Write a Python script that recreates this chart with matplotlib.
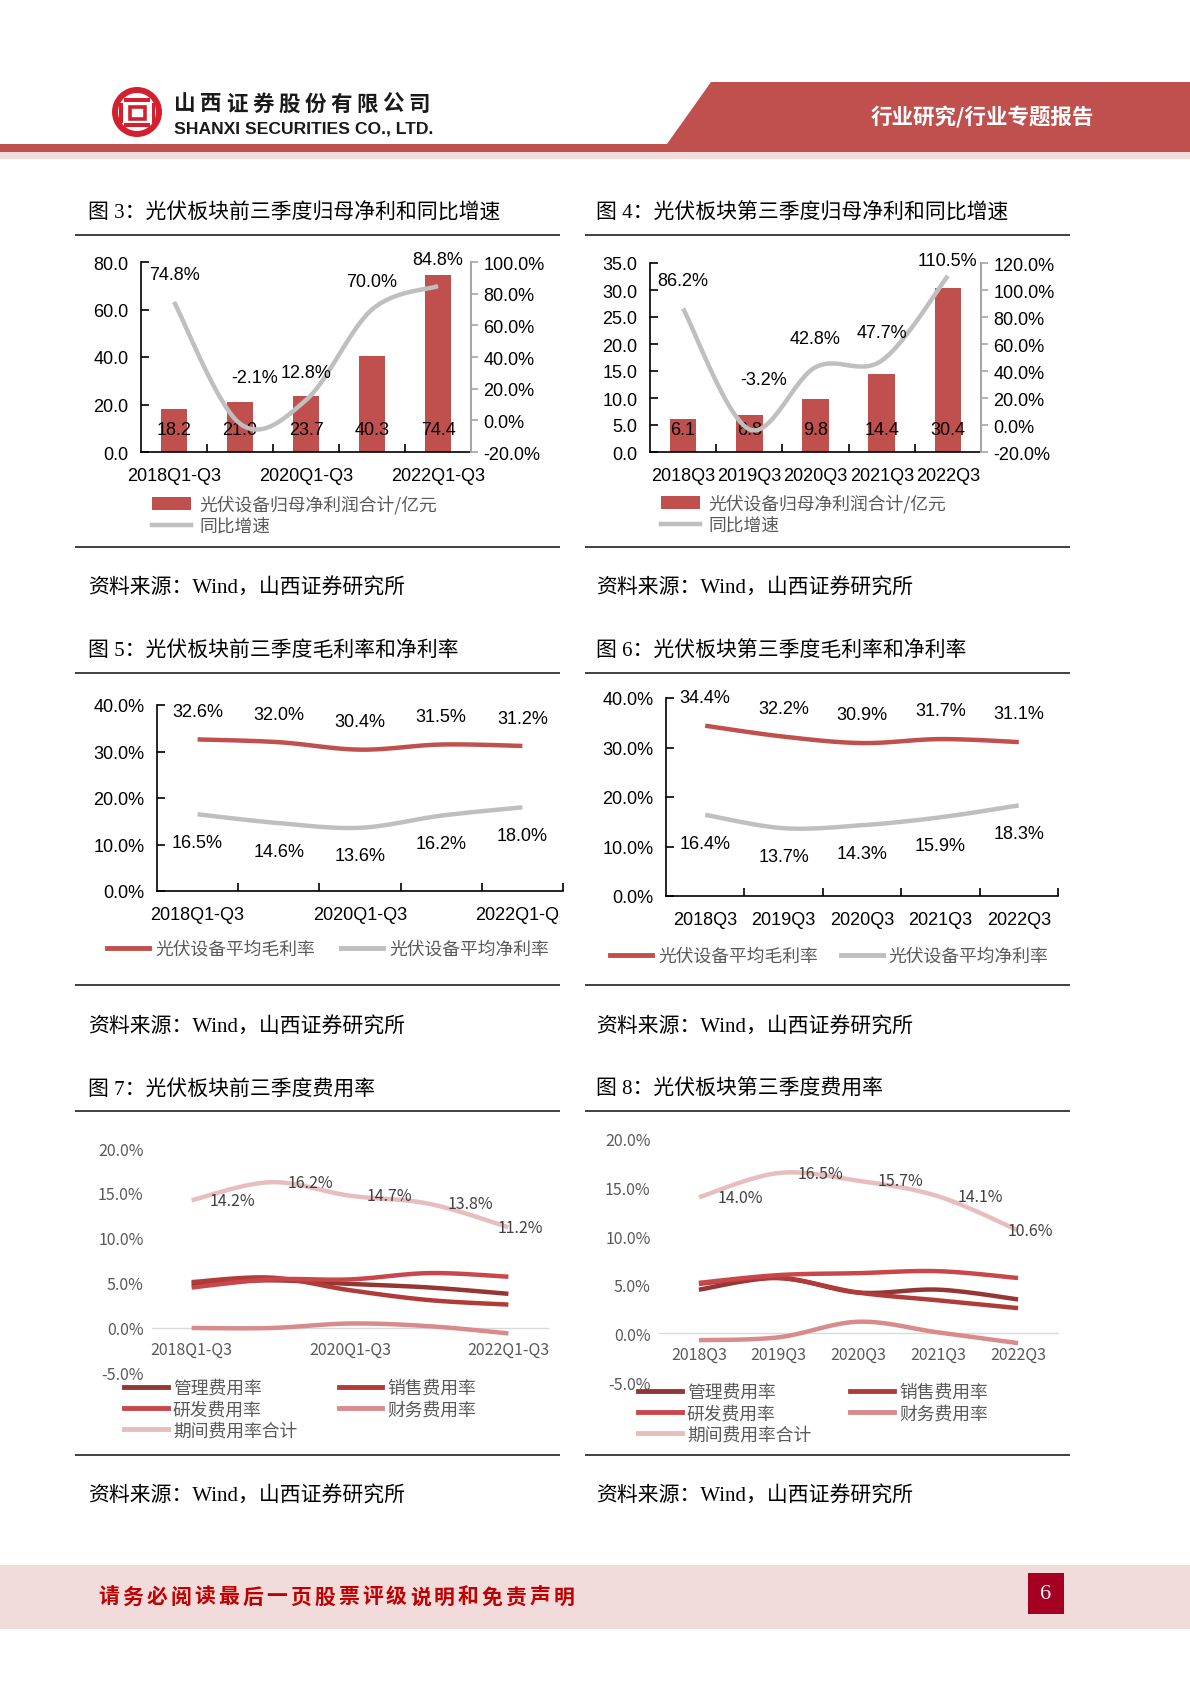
import numpy as np
import matplotlib
matplotlib.use('Agg')
import matplotlib.pyplot as plt
from matplotlib.patches import Polygon, Rectangle, Wedge, Patch
from matplotlib.lines import Line2D
from matplotlib.ticker import FuncFormatter, FixedLocator
from matplotlib.transforms import Bbox, TransformedBbox

plt.rcParams['font.family'] = ['Noto Sans CJK SC', 'DejaVu Sans']
plt.rcParams['axes.unicode_minus'] = False

# ---------------- data ----------------
cats_ytd = ['2018Q1-Q3', '2019Q1-Q3', '2020Q1-Q3', '2021Q1-Q3', '2022Q1-Q3']
cats_q3 = ['2018Q3', '2019Q3', '2020Q3', '2021Q3', '2022Q3']

profit_ytd = [18.2, 21.0, 23.7, 40.3, 74.4]
growth_ytd = [74.8, -2.1, 12.8, 70.0, 84.8]
profit_q3 = [6.1, 6.8, 9.8, 14.4, 30.4]
growth_q3 = [86.2, -3.2, 42.8, 47.7, 110.5]

gross_ytd = [32.6, 32.0, 30.4, 31.5, 31.2]
net_ytd = [16.5, 14.6, 13.6, 16.2, 18.0]
gross_q3 = [34.4, 32.2, 30.9, 31.7, 31.1]
net_q3 = [16.4, 13.7, 14.3, 15.9, 18.3]

mgmt_ytd = [4.9, 5.3, 4.9, 4.5, 3.8]
sales_ytd = [5.1, 5.6, 4.2, 3.1, 2.6]
rd_ytd = [4.5, 5.4, 5.4, 6.1, 5.7]
fin_ytd = [0.0, 0.0, 0.5, 0.2, -0.6]
total_ytd = [14.2, 16.2, 14.7, 13.8, 11.2]

mgmt_q3 = [4.5, 5.7, 4.2, 4.5, 3.5]
sales_q3 = [5.1, 5.7, 4.2, 3.4, 2.6]
rd_q3 = [5.2, 6.0, 6.2, 6.4, 5.7]
fin_q3 = [-0.7, -0.4, 1.2, 0.1, -1.0]
total_q3 = [14.0, 16.5, 15.7, 14.1, 10.6]

bar_label = '光伏设备归母净利润合计/亿元'
growth_label = '同比增速'
gross_label = '光伏设备平均毛利率'
net_label = '光伏设备平均净利率'
exp_labels = ['管理费用率', '销售费用率', '研发费用率', '财务费用率', '期间费用率合计']

# ---------------- style ----------------
W, H = 1190, 1683
RED = '#C0504D'
GRAY = '#BFBFBF'
EXP_COLORS = ['#943634', '#B03C3A', '#C9474A', '#D98A8A', '#E8BDBD']
NUM = ['Liberation Sans', 'Noto Sans CJK SC']
SERIF = ['Liberation Serif', 'Noto Sans CJK SC']
CJK = ['Noto Sans CJK SC', 'DejaVu Sans']
FS = 13  # chart text size for charts 3-6

fig = plt.figure(figsize=(W / 100, H / 100), dpi=100)
fig.patch.set_facecolor('white')

bg = fig.add_axes([0, 0, 1, 1], zorder=-5)
bg.set_xlim(0, W)
bg.set_ylim(H, 0)
bg.axis('off')


def add_ax(l, t, r, b):
    return fig.add_axes([l / W, 1 - b / H, (r - l) / W, (b - t) / H])


def smooth(x, y, n=30):
    x = np.asarray(x, float)
    y = np.asarray(y, float)
    P = np.column_stack([x, y])
    P = np.vstack([P[0], P, P[-1]])
    t = np.linspace(0, 1, n, endpoint=False)[:, None]
    segs = []
    for i in range(1, len(P) - 2):
        p0, p1, p2, p3 = P[i - 1], P[i], P[i + 1], P[i + 2]
        seg = 0.5 * (2 * p1 + (-p0 + p2) * t + (2 * p0 - 5 * p1 + 4 * p2 - p3) * t ** 2
                     + (-p0 + 3 * p1 - 3 * p2 + p3) * t ** 3)
        segs.append(seg)
    segs.append(P[-2][None, :])
    pts = np.vstack(segs)
    return pts[:, 0], pts[:, 1]


# ---------------- page header ----------------
bg.add_patch(Polygon([(711, 83), (W, 83), (W, 153), (0, 153), (0, 145), (667, 145)],
                     closed=True, facecolor=RED, edgecolor='none'))
bg.add_patch(Rectangle((0, 153), W, 7, facecolor='#F2DCDB', edgecolor='none'))
bg.text(982, 117, '行业研究/行业专题报告', color='white', fontsize=15.5, fontweight='bold',
        ha='center', va='center')

# logo
LC = '#D2202E'
bg.add_patch(Wedge((137, 113), 25, 0, 360, width=6, facecolor=LC, edgecolor='none'))
bg.add_patch(Rectangle((124, 99), 26, 4, facecolor=LC, edgecolor='none'))
bg.add_patch(Rectangle((129.5, 107.5), 15, 12, facecolor='none', edgecolor=LC, lw=2.6))
bg.add_patch(Rectangle((119, 104), 3.5, 20, facecolor=LC, edgecolor='none'))
bg.add_patch(Rectangle((151.5, 104), 3.5, 20, facecolor=LC, edgecolor='none'))
bg.add_patch(Rectangle((124, 124), 26, 3.5, facecolor=LC, edgecolor='none'))

company = '山西证券股份有限公司'
for i, ch in enumerate(company):
    bg.text(184.5 + i * 26.1, 104, ch, fontsize=15.5, fontweight='bold', color='#1a1a1a',
            ha='center', va='center')
bg.text(174, 129, 'SHANXI SECURITIES CO., LTD.', fontsize=12.6, fontweight='bold',
        family=NUM, color='#1a1a1a', ha='left', va='center')

# ---------------- footer ----------------
bg.add_patch(Rectangle((0, 1566), W, 64, facecolor='#F2DCDB', edgecolor='none'))
footer = '请务必阅读最后一页股票评级说明和免责声明'
for i, ch in enumerate(footer):
    bg.text(109 + i * 23.95, 1597, ch, fontsize=15, fontweight='bold', color='#C00000',
            ha='center', va='center')
bg.add_patch(Rectangle((1028, 1574), 36, 41, facecolor='#A50021', edgecolor='none'))
bg.text(1046, 1595, '6', color='white', fontsize=16, family=SERIF, ha='center', va='center')

# ---------------- titles, rules, sources ----------------
titles = [
    (88, 213, '图 3：光伏板块前三季度归母净利和同比增速'),
    (596, 213, '图 4：光伏板块第三季度归母净利和同比增速'),
    (88, 651, '图 5：光伏板块前三季度毛利率和净利率'),
    (596, 651, '图 6：光伏板块第三季度毛利率和净利率'),
    (88, 1090, '图 7：光伏板块前三季度费用率'),
    (596, 1090, '图 8：光伏板块第三季度费用率'),
]
for x, y, s in titles:
    bg.text(x, y, s, fontsize=15, family=SERIF, color='black', ha='left', va='center')

for y in (236, 674, 1112, 548, 986, 1456):
    for x0, x1 in ((75, 560), (585, 1070)):
        bg.plot([x0, x1], [y, y], color='#404040', lw=1.4, solid_capstyle='butt')

for y in (589, 1028, 1497):
    for x in (88, 596):
        bg.text(x, y, '资料来源：Wind，山西证券研究所', fontsize=15, family=SERIF,
                color='black', ha='left', va='center')


# ---------------- bar + growth charts ----------------
def bar_chart(box, cats, vals, growth, ylim_l, step_l, ylim_r, step_r, label_idx,
              gdx, gdy, leg_xy):
    ax = add_ax(*box)
    x = np.arange(len(cats))
    ax.bar(x, vals, width=0.4, color=RED, zorder=2)
    ax.set_xlim(-0.5, len(cats) - 0.5)
    ax.set_ylim(*ylim_l)
    ax.set_yticks(np.arange(ylim_l[0], ylim_l[1] + 1e-6, step_l))
    ax.yaxis.set_major_formatter(FuncFormatter(lambda v, p: f'{v:.1f}'))
    ax.set_xticks([x[i] for i in label_idx])
    ax.set_xticklabels([cats[i] for i in label_idx])
    ax.xaxis.set_minor_locator(FixedLocator(np.arange(0.5, len(cats), 1.0)))
    ax.tick_params(axis='x', which='major', length=0, pad=11, labelsize=FS)
    ax.tick_params(axis='x', which='minor', length=6, direction='in', width=1.2)
    ax.tick_params(axis='y', length=6, direction='in', width=1.2, pad=9, labelsize=FS)
    for lab in ax.get_xticklabels() + ax.get_yticklabels():
        lab.set_family(NUM)
    for s in ('top', 'right'):
        ax.spines[s].set_visible(False)
    ax.spines['left'].set_linewidth(1.2)
    ax.spines['bottom'].set_linewidth(1.2)
    for i, v in enumerate(vals):
        ax.annotate(f'{v:.1f}', xy=(x[i], 0), xytext=(0, 16), textcoords='offset points',
                    ha='center', va='center', fontsize=FS, family=NUM, zorder=4)

    ax2 = ax.twinx()
    xs, ys = smooth(x, growth)
    ax2.plot(xs, ys, color=GRAY, lw=3.2, solid_capstyle='butt', zorder=3)
    ax2.set_ylim(*ylim_r)
    ax2.set_yticks(np.arange(ylim_r[0], ylim_r[1] + 1e-6, step_r))
    ax2.yaxis.set_major_formatter(FuncFormatter(lambda v, p: f'{v:.1f}%'))
    ax2.tick_params(axis='y', length=5, direction='out', width=1.2, color='#A6A6A6',
                    pad=4, labelsize=FS)
    for lab in ax2.get_yticklabels():
        lab.set_family(NUM)
    for s in ('top', 'left', 'bottom'):
        ax2.spines[s].set_visible(False)
    ax2.spines['right'].set_color('#A6A6A6')
    ax2.spines['right'].set_linewidth(1.5)
    for i, g in enumerate(growth):
        ax2.text(x[i] + gdx[i], g + gdy[i], f'{g:.1f}%', ha='center', va='center',
                 fontsize=FS, family=NUM)

    handles = [Patch(facecolor=RED, edgecolor='none'),
               Line2D([], [], color=GRAY, lw=3.2)]
    fig.legend(handles, [bar_label, growth_label], loc='upper left',
               bbox_to_anchor=(leg_xy[0] / W, 1 - leg_xy[1] / H), frameon=False,
               borderpad=0, borderaxespad=0, handlelength=2.2, handletextpad=0.45,
               labelspacing=0.2, prop={'size': 12.8, 'family': CJK}, labelcolor='#595959')
    return ax


bar_chart((141, 263, 471, 453), cats_ytd, profit_ytd, growth_ytd, (0, 80), 20, (-20, 100), 20,
          [0, 2, 4], [0, 0.22, 0, 0, 0], [17, 29, 17.5, 17.5, 16.5], (152, 496))
bar_chart((650, 264, 981, 453), cats_q3, profit_q3, growth_q3, (0, 35), 5, (-20, 120), 20,
          [0, 1, 2, 3, 4], [0, 0.22, 0, 0, 0], [21, 37, 21, 21, 11], (661, 495))


# ---------------- margin charts ----------------
def margin_chart(box, cats, gross, net, label_idx, dy, leg_xy, colsp, clip_x=None):
    ax = add_ax(*box)
    x = np.arange(len(cats))
    xs, ys = smooth(x, gross)
    ax.plot(xs, ys, color=RED, lw=3.2, solid_capstyle='butt')
    xs, ys = smooth(x, net)
    ax.plot(xs, ys, color=GRAY, lw=3.2, solid_capstyle='butt')
    ax.set_xlim(-0.5, len(cats) - 0.5)
    ax.set_ylim(0, 40)
    ax.set_yticks(np.arange(0, 40.1, 10))
    ax.yaxis.set_major_formatter(FuncFormatter(lambda v, p: f'{v:.1f}%'))
    ax.set_xticks([x[i] for i in label_idx])
    ax.set_xticklabels([cats[i] for i in label_idx])
    ax.xaxis.set_minor_locator(FixedLocator(np.arange(0.5, len(cats), 1.0)))
    ax.tick_params(axis='x', which='major', length=0, pad=11, labelsize=FS)
    ax.tick_params(axis='x', which='minor', length=6, direction='in', width=1.2)
    ax.tick_params(axis='y', length=6, direction='in', width=1.2, pad=9, labelsize=FS)
    for lab in ax.get_xticklabels() + ax.get_yticklabels():
        lab.set_family(NUM)
    if clip_x is not None:
        cb = TransformedBbox(Bbox([[0, 0], [clip_x / W, 1]]), fig.transFigure)
        for lab in ax.get_xticklabels():
            lab.set_clip_box(cb)
            lab.set_clip_on(True)
    for s in ('top', 'right'):
        ax.spines[s].set_visible(False)
    ax.spines['left'].set_linewidth(1.2)
    ax.spines['bottom'].set_linewidth(1.2)
    for i in range(len(cats)):
        ax.text(x[i], gross[i] + dy, f'{gross[i]:.1f}%', ha='center', va='center',
                fontsize=FS, family=NUM)
        ax.text(x[i], net[i] - dy, f'{net[i]:.1f}%', ha='center', va='center',
                fontsize=FS, family=NUM)
    handles = [Line2D([], [], color=RED, lw=3.5), Line2D([], [], color=GRAY, lw=3.5)]
    fig.legend(handles, [gross_label, net_label], loc='upper left', ncol=2,
               bbox_to_anchor=(leg_xy[0] / W, 1 - leg_xy[1] / H), frameon=False,
               borderpad=0, borderaxespad=0, handlelength=2.35, handletextpad=0.35,
               columnspacing=colsp, prop={'size': 12.8, 'family': CJK}, labelcolor='#595959')
    return ax


margin_chart((157, 706, 563, 892), cats_ytd, gross_ytd, net_ytd, [0, 2, 4], 6.0,
             (107, 941), 1.5, clip_x=560)
margin_chart((666, 699, 1058, 897), cats_q3, gross_q3, net_q3, [0, 1, 2, 3, 4], 5.7,
             (610, 948), 1.3)


# ---------------- expense charts ----------------
def expense_chart(box, cats, series, total_dx, label_idx, leg_xy, colsp):
    ax = add_ax(*box)
    x = np.arange(len(cats))
    for vals, c in zip(series, EXP_COLORS):
        xs, ys = smooth(x, vals)
        ax.plot(xs, ys, color=c, lw=3.2, solid_capstyle='butt')
    ax.set_xlim(-0.5, len(cats) - 0.5)
    ax.set_ylim(-5, 20)
    ax.set_yticks(np.arange(-5, 20.1, 5))
    ax.yaxis.set_major_formatter(FuncFormatter(lambda v, p: f'{v:.1f}%'))
    ax.set_xticks([x[i] for i in label_idx])
    ax.set_xticklabels([cats[i] for i in label_idx])
    for lab in ax.get_xticklabels() + ax.get_yticklabels():
        lab.set_family(CJK)
    for s in ('top', 'right', 'left'):
        ax.spines[s].set_visible(False)
    ax.spines['bottom'].set_position(('data', 0))
    ax.spines['bottom'].set_color('#D9D9D9')
    ax.spines['bottom'].set_linewidth(1.0)
    ax.spines['bottom'].set_zorder(0)
    ax.tick_params(axis='both', length=0, labelsize=11.5, labelcolor='#595959')
    ax.tick_params(axis='x', pad=9)
    ax.tick_params(axis='y', pad=6)
    total = series[-1]
    for i, v in enumerate(total):
        ax.text(x[i] + total_dx[i], v, f'{v:.1f}%', ha='center', va='center',
                fontsize=11.5, color='#404040', family=CJK)
    handles = [Line2D([], [], color=c, lw=3.5) for c in EXP_COLORS]
    order = [0, 2, 4, 1, 3]
    fig.legend([handles[i] for i in order], [exp_labels[i] for i in order], loc='upper left',
               ncol=2, bbox_to_anchor=(leg_xy[0] / W, 1 - leg_xy[1] / H), frameon=False,
               borderpad=0, borderaxespad=0, handlelength=2.45, handletextpad=0.3,
               columnspacing=colsp, labelspacing=0.18, prop={'size': 12.8, 'family': CJK},
               labelcolor='#595959')
    return ax


expense_chart((152, 1149, 548, 1374), cats_ytd,
              [mgmt_ytd, sales_ytd, rd_ytd, fin_ytd, total_ytd],
              [0.52, 0.5, 0.5, 0.52, 0.15], [0, 2, 4], (124, 1380), 2.35)
expense_chart((659, 1140, 1058, 1383), cats_q3,
              [mgmt_q3, sales_q3, rd_q3, fin_q3, total_q3],
              [0.52, 0.52, 0.53, 0.53, 0.15], [0, 1, 2, 3, 4], (638, 1384), 2.2)

fig.savefig('out.png', dpi=100, facecolor='white')
